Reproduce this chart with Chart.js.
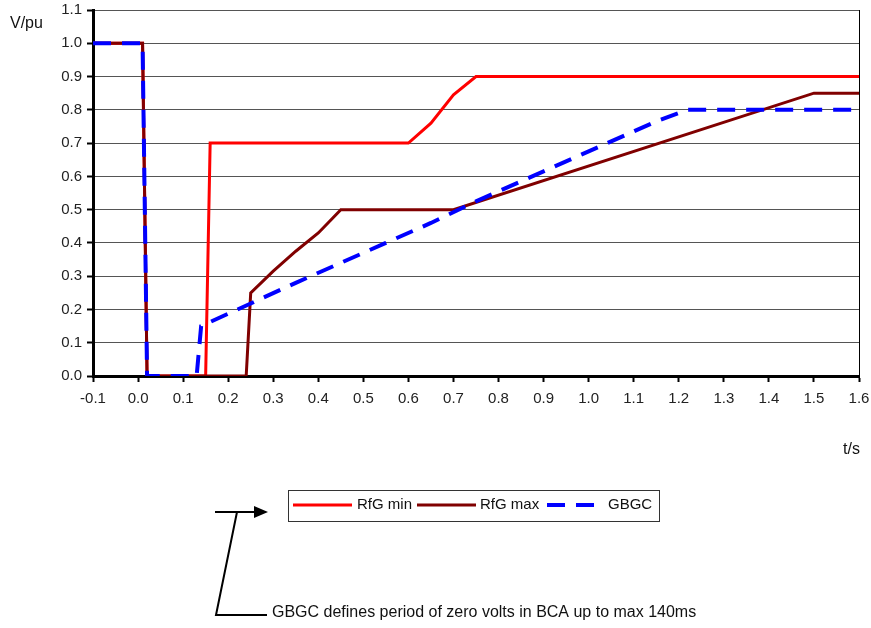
<!DOCTYPE html>
<html>
<head>
<meta charset="utf-8">
<script src="https://cdn.jsdelivr.net/npm/chart.js@4.4.0/dist/chart.umd.min.js"></script>
<style>
  html, body { margin: 0; padding: 0; background: #fff; }
  #wrap { position: relative; width: 871px; height: 628px; }
</style>
</head>
<body>
<div id="wrap"><canvas id="voltChart" width="871" height="628"></canvas></div>
<script>
// time (s) / voltage (pu) pairs for each profile
const rfgMinT = [-0.1, 0.01, 0.02, 0.15, 0.16, 0.6, 0.65, 0.7, 0.75, 1.6];
const rfgMinV = [1.0, 1.0, 0.0, 0.0, 0.7, 0.7, 0.76, 0.845, 0.9, 0.9];

const rfgMaxT = [-0.1, 0.01, 0.02, 0.24, 0.25, 0.3, 0.35, 0.4, 0.45, 0.7, 1.5, 1.6];
const rfgMaxV = [1.0, 1.0, 0.0, 0.0, 0.25, 0.315, 0.375, 0.43, 0.5, 0.5, 0.85, 0.85];

const gbgcT = [-0.1, 0.01, 0.02, 0.13, 0.14, 0.25, 0.35, 0.45, 0.55, 0.65, 0.75, 0.85, 0.95, 1.05, 1.15, 1.22, 1.6];
const gbgcV = [1.0, 1.0, 0.0, 0.0, 0.15, 0.218, 0.28, 0.34, 0.40, 0.46, 0.525, 0.585, 0.645, 0.705, 0.765, 0.8, 0.8];

const seriesNames = ['RfG min', 'RfG max', 'GBGC'];
const noteText = 'GBGC defines period of zero volts in BCA up to max 140ms';

function pairs(ts, vs) { return ts.map((t, i) => ({x: t, y: vs[i]})); }

const FONT = '"Liberation Sans", Arial, sans-serif';

// extra drawing: right border, axis titles, boxed legend and the note arrow
const extras = {
  id: 'extras',
  afterDraw(chart) {
    const ctx = chart.ctx;
    const a = chart.chartArea;
    ctx.save();
    ctx.strokeStyle = '#000';
    ctx.lineWidth = 1;
    ctx.beginPath();
    ctx.moveTo(a.right + 0.5, a.top);
    ctx.lineTo(a.right + 0.5, a.bottom);
    ctx.stroke();

    ctx.fillStyle = '#111';
    ctx.font = '16px ' + FONT;
    ctx.textBaseline = 'middle';
    ctx.textAlign = 'left';
    ctx.fillText('V/pu', 10, 24);
    ctx.fillText('t/s', 843, 450);

    // legend box
    ctx.strokeStyle = '#333';
    ctx.lineWidth = 1;
    ctx.strokeRect(288.5, 490.5, 371, 31);
    ctx.font = '15px ' + FONT;
    const ds = chart.data.datasets;
    const items = [
      {x1: 293, x2: 352, tx: 357},
      {x1: 417, x2: 476, tx: 480},
      {x1: 547, x2: 598, tx: 608}
    ];
    items.forEach((it, i) => {
      const d = ds[i];
      ctx.strokeStyle = d.borderColor;
      ctx.lineWidth = d.borderWidth;
      ctx.setLineDash(d.borderDash || []);
      ctx.beginPath();
      ctx.moveTo(it.x1, 505);
      ctx.lineTo(it.x2, 505);
      ctx.stroke();
      ctx.setLineDash([]);
      ctx.fillStyle = '#111';
      ctx.fillText(seriesNames[i], it.tx, 505);
    });

    // note with bent leader and arrow
    ctx.strokeStyle = '#000';
    ctx.fillStyle = '#000';
    ctx.lineWidth = 2;
    ctx.beginPath();
    ctx.moveTo(215, 512);
    ctx.lineTo(258, 512);
    ctx.moveTo(237, 512);
    ctx.lineTo(216, 615);
    ctx.lineTo(267, 615);
    ctx.stroke();
    ctx.beginPath();
    ctx.moveTo(268, 512);
    ctx.lineTo(254, 506);
    ctx.lineTo(254, 518);
    ctx.closePath();
    ctx.fill();
    ctx.fillStyle = '#111';
    ctx.font = '16px ' + FONT;
    ctx.fillText(noteText, 272, 613);
    ctx.restore();
  }
};

new Chart(document.getElementById('voltChart'), {
  type: 'line',
  data: {
    datasets: [
      {label: seriesNames[0], data: pairs(rfgMinT, rfgMinV), borderColor: '#ff0000', borderWidth: 3, order: 3},
      {label: seriesNames[1], data: pairs(rfgMaxT, rfgMaxV), borderColor: '#800000', borderWidth: 3, order: 2},
      {label: seriesNames[2], data: pairs(gbgcT, gbgcV), borderColor: '#0000ff', borderWidth: 4, borderDash: [18, 11], order: 1}
    ]
  },
  options: {
    responsive: false,
    animation: false,
    layout: {autoPadding: false, padding: {top: 10, right: 12, left: 0, bottom: 0}},
    elements: {point: {radius: 0}, line: {tension: 0, fill: false}},
    plugins: {legend: {display: false}, tooltip: {enabled: false}},
    scales: {
      x: {
        type: 'linear',
        min: -0.1, max: 1.6,
        border: {color: '#000', width: 3},
        grid: {drawOnChartArea: false, color: '#000', tickLength: 6, tickWidth: 2},
        ticks: {stepSize: 0.1, color: '#222', font: {family: FONT, size: 15}, padding: 8,
                maxRotation: 0, autoSkip: false, callback: v => v.toFixed(1)},
        afterFit: s => { s.height = 252; s.paddingLeft = 0; s.paddingRight = 0; }
      },
      y: {
        min: 0, max: 1.1,
        border: {color: '#000', width: 3},
        grid: {color: '#555', lineWidth: 1, tickColor: '#000', tickLength: 6, tickWidth: 2},
        ticks: {stepSize: 0.1, color: '#222', font: {family: FONT, size: 15}, padding: 5,
                callback: v => v.toFixed(1)},
        afterFit: s => { s.width = 93; s.paddingTop = 0; s.paddingBottom = 0; }
      }
    }
  },
  plugins: [extras]
});
</script>
</body>
</html>
